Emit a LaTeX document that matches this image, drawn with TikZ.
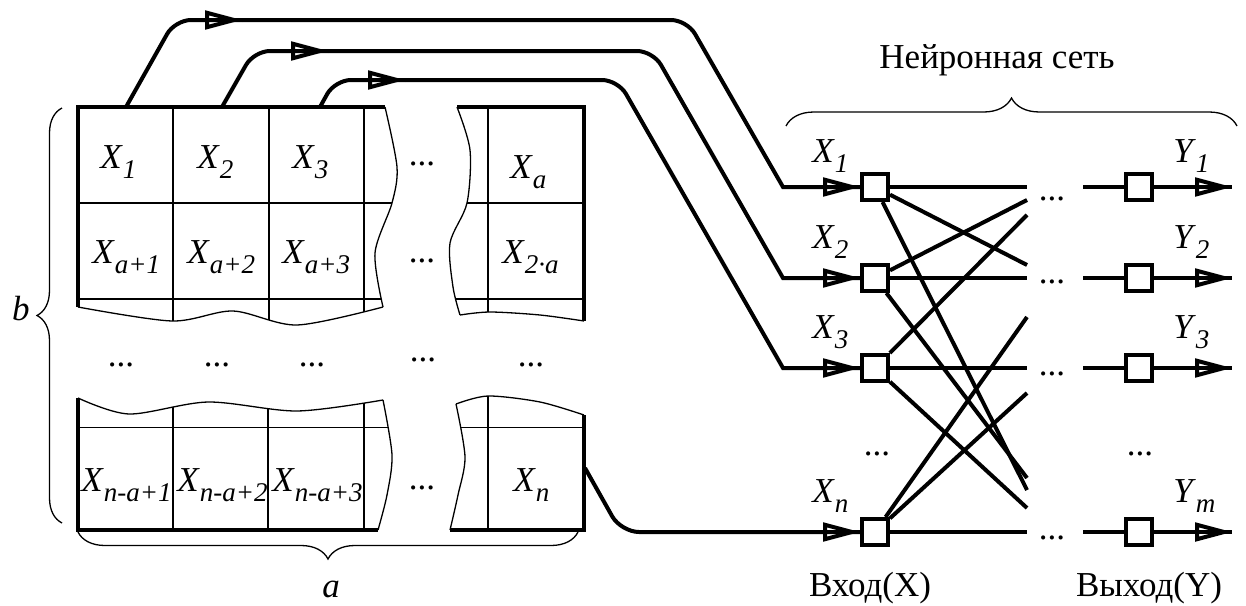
\documentclass[tikz,border=0pt]{standalone}
\usepackage{fontspec}
\setmainfont{Liberation Serif}
\usetikzlibrary{decorations.pathreplacing,decorations.markings}

% italic symbol with a lowered italic index
\newcommand\ix[2]{\textit{#1}\raisebox{-5pt}{\fontsize{13.5}{13.5}\selectfont\textit{#2}}}

\begin{document}
\begin{tikzpicture}[x=0.5pt, y=-0.5pt,
  font=\fontsize{17.5}{21}\selectfont,
  wire/.style={line width=2pt},
  fine/.style={line width=0.65pt},
  frame/.style={line width=2pt},
  cell/.style={inner sep=0pt, anchor=base west},
  dotsnode/.style={inner sep=0pt, anchor=base},
  neuron/.style={draw, line width=2pt, minimum size=13pt, inner sep=0pt},
  hollowtip/.style={postaction=decorate, decoration={markings,
      mark=at position 1 with {\draw[line width=2pt, sharp corners, line join=miter]
        (-17.5pt,3.6pt) -- (-4pt,0pt) -- (-17.5pt,-3.6pt) -- cycle;}}},
  bracket/.style={fine, decorate, decoration={brace, amplitude=#1}},
]
\useasboundingbox (0,0) rectangle (1246,605);

% ---------------- image matrix: top-left piece ----------------
\begin{scope}
  \clip (78,107) -- (385,107)
    -- plot[smooth] coordinates {(385,107) (397,167) (392,203) (375,253) (383,307)}
    -- plot[smooth] coordinates {(383,307) (297,325) (233,311) (172,321) (78,307)} -- cycle;
  \foreach \cx in {173,269,364} \draw[fine] (\cx,100) -- (\cx,340);
  \foreach \ry in {203,299} \draw[fine] (70,\ry) -- (410,\ry);
\end{scope}
\draw[fine] plot[smooth] coordinates {(385,107) (397,167) (392,203) (375,253) (383,307)};
\draw[fine] plot[smooth] coordinates {(383,307) (297,325) (233,311) (172,321) (78,307)};
\draw[frame] (385,107) -- (78,107) -- (78,307);

% ---------------- top-right piece ----------------
\begin{scope}
  \clip (457,107) -- (584,107) -- (584,321)
    -- plot[smooth] coordinates {(584,321) (540,315) (490,312) (460,315)}
    -- plot[smooth] coordinates {(460,315) (453,287) (450,243) (467,203) (470,150) (457,107)} -- cycle;
  \draw[fine] (488,100) -- (488,340);
  \foreach \ry in {203,299} \draw[fine] (440,\ry) -- (590,\ry);
\end{scope}
\draw[fine] plot[smooth] coordinates {(457,107) (470,150) (467,203) (450,243) (453,287) (460,315)};
\draw[fine] plot[smooth] coordinates {(460,315) (490,312) (540,315) (584,321)};
\draw[frame] (457,107) -- (584,107) -- (584,321);

% ---------------- bottom-left piece ----------------
\begin{scope}
  \clip (78,530) -- (78,398)
    -- plot[smooth] coordinates {(78,398) (129,414) (208,402) (297,411) (383,400)}
    -- plot[smooth] coordinates {(383,400) (392,455) (387,495) (378,530)} -- cycle;
  \foreach \cx in {173,268,364} \draw[fine] (\cx,390) -- (\cx,540);
  \draw[fine] (70,427.5) -- (400,427.5);
\end{scope}
\draw[fine] plot[smooth] coordinates {(78,398) (129,414) (208,402) (297,411) (383,400)};
\draw[fine] plot[smooth] coordinates {(383,400) (392,455) (387,495) (378,530)};
\draw[frame] (78,398) -- (78,530) -- (378,530);

% ---------------- bottom-right piece ----------------
\begin{scope}
  \clip (584,530) -- (584,415)
    -- plot[smooth] coordinates {(584,415) (540,402) (488,396) (456,404)}
    -- plot[smooth] coordinates {(456,404) (465,457) (458,495) (450,530)} -- cycle;
  \draw[fine] (488,390) -- (488,540);
  \draw[fine] (440,427.5) -- (590,427.5);
\end{scope}
\draw[fine] plot[smooth] coordinates {(584,415) (540,402) (488,396) (456,404)};
\draw[fine] plot[smooth] coordinates {(456,404) (465,457) (458,495) (450,530)};
\draw[frame] (450,530) -- (584,530) -- (584,415);

% ---------------- cell labels ----------------
\node[cell] (c1)  at (100,168) {\ix{X}{1}};
\node[cell] (c2)  at (197,168) {\ix{X}{2}};
\node[cell] (c3)  at (292,168) {\ix{X}{3}};
\node[cell] (ca)  at (510,178) {\ix{X}{a}};
\node[cell] (c4)  at (92,263)  {\ix{X}{a+1}};
\node[cell] (c5)  at (187,263) {\ix{X}{a+2}};
\node[cell] (c6)  at (282,263) {\ix{X}{a+3}};
\node[cell] (c2a) at (502,263) {\ix{X}{2\textperiodcentered a}};
\node[cell] (c7)  at (81,491)  {\ix{X}{n-a+1}};
\node[cell] (c8)  at (177,491) {\ix{X}{n-a+2}};
\node[cell] (c9)  at (272,491) {\ix{X}{n-a+3}};
\node[cell] (cn)  at (513,491) {\ix{X}{n}};

\node[dotsnode] (d1) at (422,165) {...};
\node[dotsnode] (d2) at (422,262) {...};
\node[dotsnode] (d3) at (121,366) {...};
\node[dotsnode] (d4) at (217,366) {...};
\node[dotsnode] (d5) at (312,366) {...};
\node[dotsnode] (d6) at (423,361) {...};
\node[dotsnode] (d7) at (531,366) {...};
\node[dotsnode] (d8) at (422,489) {...};

% ---------------- braces ----------------
\draw[bracket=12.5pt] (62,523) -- (62,108);
\node[cell, anchor=base] (lb) at (21,320) {\textit{b}};
\draw[bracket=13.5pt] (578,532) -- (78,532);
\node[cell, anchor=base] (la) at (331,597) {\textit{a}};
\draw[bracket=14pt] (786,126) -- (1237,126);
\node[cell, anchor=base] (net) at (997,68) {Нейронная сеть};

% ---------------- network units ----------------
\node[neuron] (s1) at (875,187) {};
\node[neuron] (s2) at (875,278) {};
\node[neuron] (s3) at (875,368) {};
\node[neuron] (sn) at (875,532) {};
\node[neuron] (o1) at (1139,187) {};
\node[neuron] (o2) at (1139,278) {};
\node[neuron] (o3) at (1139,368) {};
\node[neuron] (om) at (1139,532) {};

\node[cell] (x1) at (812,162) {\ix{X}{1}};
\node[cell] (x2) at (812,248) {\ix{X}{2}};
\node[cell] (x3) at (812,338) {\ix{X}{3}};
\node[cell] (xn) at (812,502) {\ix{X}{n}};
\node[cell] (y1) at (1173,162) {\ix{Y}{1}};
\node[cell] (y2) at (1173,248) {\ix{Y}{2}};
\node[cell] (y3) at (1173,338) {\ix{Y}{3}};
\node[cell] (ym) at (1173,502) {\ix{Y}{m}};

\node[dotsnode] (vin)  at (877,455)  {...};
\node[dotsnode] (vout) at (1140,455) {...};
\node[dotsnode] (r1) at (1052,200) {...};
\node[dotsnode] (r2) at (1052,283) {...};
\node[dotsnode] (r3) at (1052,375) {...};
\node[dotsnode] (rn) at (1052,539) {...};

\node[cell, anchor=base] (inlbl)  at (870,596)  {Вход(X)};
\node[cell, anchor=base] (outlbl) at (1149,596) {Выход(Y)};

% ---------------- wiring from the matrix to the inputs ----------------
\coordinate (g1) at (126,107);  \coordinate (h1) at (175,20);
\coordinate (t1) at (242,20);   \coordinate (k1) at (687,20);  \coordinate (m1) at (783,187);
\coordinate (g2) at (222,107);  \coordinate (h2) at (254,51);
\coordinate (t2) at (328,51);   \coordinate (k2) at (653,51);  \coordinate (m2) at (783,278);
\coordinate (g3) at (320,107);  \coordinate (h3) at (335,80);
\coordinate (t3) at (405,80);   \coordinate (k3) at (618,80);  \coordinate (m3) at (783,368);
\coordinate (gn) at (585,468);  \coordinate (hn) at (621,532);

\draw[wire, hollowtip, rounded corners=8pt] (g1) -- (h1) -- (t1);
\draw[wire, hollowtip] (t1) [rounded corners=8pt] -- (k1) [sharp corners] -- (m1) -- (s1);
\draw[wire, hollowtip, rounded corners=8pt] (g2) -- (h2) -- (t2);
\draw[wire, hollowtip] (t2) [rounded corners=8pt] -- (k2) [sharp corners] -- (m2) -- (s2);
\draw[wire, hollowtip, rounded corners=8pt] (g3) -- (h3) -- (t3);
\draw[wire, hollowtip] (t3) [rounded corners=8pt] -- (k3) [sharp corners] -- (m3) -- (s3);
\draw[wire, hollowtip, rounded corners=9pt] (gn) -- (hn) -- (sn);

% ---------------- connections between the layers ----------------
\coordinate (e1a) at (1027,187); \coordinate (e1b) at (1027,265); \coordinate (e1c) at (1027,490);
\coordinate (e2a) at (1027,200); \coordinate (e2b) at (1027,278); \coordinate (e2c) at (1027,478);
\coordinate (e3a) at (1027,215); \coordinate (e3b) at (1027,368); \coordinate (e3c) at (1027,508);
\coordinate (ena) at (1027,317); \coordinate (enb) at (1027,393); \coordinate (enc) at (1027,532);
\foreach \s/\e in {s1/e1a, s1/e1b, s1/e1c, s2/e2a, s2/e2b, s2/e2c,
                   s3/e3a, s3/e3b, s3/e3c, sn/ena, sn/enb, sn/enc}
  \draw[wire] (\s) -- (\e);

% ---------------- outputs ----------------
\coordinate (p1) at (1083,187); \coordinate (q1) at (1232,187);
\coordinate (p2) at (1083,278); \coordinate (q2) at (1232,278);
\coordinate (p3) at (1083,368); \coordinate (q3) at (1232,368);
\coordinate (pm) at (1083,532); \coordinate (qm) at (1232,532);
\foreach \p/\o/\q in {p1/o1/q1, p2/o2/q2, p3/o3/q3, pm/om/qm} {
  \draw[wire] (\p) -- (\o);
  \draw[wire, hollowtip] (\o) -- (\q);
}
\end{tikzpicture}
\end{document}
